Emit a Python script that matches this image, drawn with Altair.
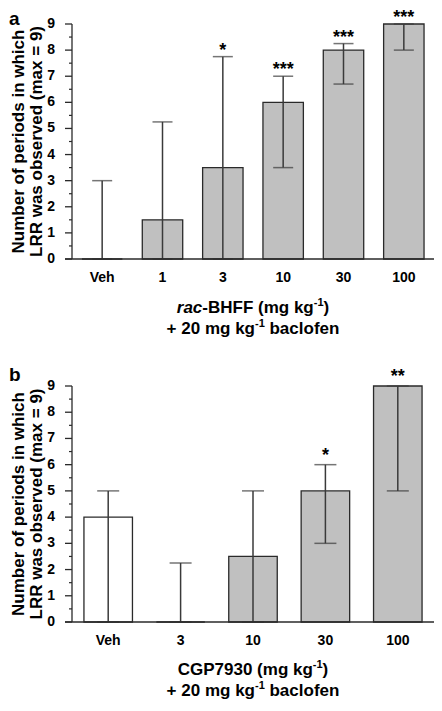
import altair as alt
import pandas as pd

FONT = "Liberation Sans"

# ---------------- data ----------------
a_doses = ["Veh", "1", "3", "10", "30", "100"]
a_median = [0, 1.5, 3.5, 6, 8, 9]
a_low = [0, 0, 0, 3.5, 6.7, 8]
a_high = [3, 5.25, 7.75, 7, 8.25, 9]
a_sig = ["", "", "*", "***", "***", "***"]
a_kind = ["vehicle", "drug", "drug", "drug", "drug", "drug"]

b_doses = ["Veh", "3", "10", "30", "100"]
b_median = [4, 0, 2.5, 5, 9]
b_low = [0, 0, 0, 3, 5]
b_high = [5, 2.25, 5, 6, 9]
b_sig = ["", "", "", "*", "**"]
b_kind = ["vehicle", "drug", "drug", "drug", "drug"]

y_major = [0, 1, 2, 3, 4, 5, 6, 7, 8, 9]
y_minor = [0.5, 1.5, 2.5, 3.5, 4.5, 5.5, 6.5, 7.5, 8.5]
y_limits = [0, 9]

y_title = ["Number of periods in which", "LRR was observed (max = 9)"]
a_xtitle = [[("rac", "i"), ("-BHFF (mg kg", "b"), ("-1", "s"), (")", "b")],
            [("+ 20 mg kg", "b"), ("-1", "s"), (" baclofen", "b")]]
b_xtitle = [[("CGP7930 (mg kg", "b"), ("-1", "s"), (")", "b")],
            [("+ 20 mg kg", "b"), ("-1", "s"), (" baclofen", "b")]]

# Liberation Sans Bold advance widths (per 1000 em), used to lay out the rich-text titles
ADV = {" ": 278, "(": 333, ")": 333, "+": 584, "-": 333, "B": 722, "C": 722,
       "F": 611, "G": 778, "H": 722, "P": 667, "a": 556, "b": 611, "c": 556,
       "e": 556, "f": 333, "g": 611, "k": 556, "l": 278, "m": 889, "n": 611,
       "o": 611, "r": 389}
for d in "0123456789":
    ADV[d] = 556

# ---------------- layout (pixels, relative to plot origin) ----------------
W = 362
HT = 676
A_TOP, A_H = 0, 235
B_TOP, B_H = 362, 236
TFS = 17
SFS = 11
INK = "#2a2a2a"
WHISK = "#3a3a3a"


def seg_layout(line, center):
    parts, total = [], 0.0
    for text, kind in line:
        fs = SFS if kind == "s" else TFS
        lead = len(text) - len(text.lstrip(" "))
        w = sum(ADV[c] for c in text) * fs / 1000
        parts.append((text.strip(), kind, total + lead * ADV[" "] * fs / 1000))
        total += w
    start = center - total / 2
    return [(t, k, start + x) for t, k, x in parts]


def panel(doses, med, low, high, sig, kind, label, label_dy, xtitle, top, height,
          star_dy, cap, tgap):
    bottom = top + height
    df = pd.DataFrame(dict(dose=doses, med=med, low=low, high=high, sig=sig, kind=kind))
    base = alt.Chart(df)
    xsc = alt.Scale(domain=doses, range=[0, W], paddingInner=0.33, paddingOuter=0.165)
    ysc = alt.Scale(domain=y_limits, range=[bottom, top], nice=False, zero=False)
    x = alt.X("dose:N", scale=xsc, axis=None)

    def Y(f):
        return alt.Y(f, scale=ysc, axis=None)

    layers = []
    layers.append(base.mark_bar(stroke=INK, strokeWidth=1.3).encode(
        x=x, y=Y("med:Q"),
        color=alt.Color("kind:N", scale=alt.Scale(domain=["vehicle", "drug"],
                                                  range=["white", "#c0c0c0"]), legend=None)))
    layers.append(base.mark_rule(color=WHISK, strokeWidth=1.5).encode(
        x=x, y=Y("low:Q"), y2="high:Q"))
    for f in ["high:Q", "low:Q"]:
        layers.append(base.mark_tick(size=cap, thickness=1.5, color=WHISK,
                                     orient="horizontal").encode(x=x, y=Y(f)))
    layers.append(base.mark_text(font=FONT, fontSize=18, fontWeight="bold",
                                 baseline="alphabetic", dy=star_dy, color="black").encode(
        x=x, y=Y("high:Q"), text="sig:N"))
    # category labels
    layers.append(base.mark_text(font=FONT, fontSize=14, fontWeight="bold",
                                 baseline="alphabetic", color="black").encode(
        x=x, y=alt.value(bottom + 23), text="dose:N"))
    # y axis line, x baseline, ticks, labels
    lim = pd.DataFrame({"lo": [y_limits[0]], "hi": [y_limits[1]]})
    layers.append(alt.Chart(lim).mark_rule(color=INK, strokeWidth=1.3).encode(
        x=alt.value(0), y=Y("lo:Q"), y2="hi:Q"))
    layers.append(alt.Chart(lim).mark_rule(color=INK, strokeWidth=1.3).encode(
        x=alt.value(-7), x2=alt.value(W), y=Y("lo:Q")))
    major = pd.DataFrame({"v": y_major})
    layers.append(alt.Chart(major).mark_rule(color=INK, strokeWidth=1.3).encode(
        y=Y("v:Q"), x=alt.value(-7), x2=alt.value(0)))
    layers.append(alt.Chart(pd.DataFrame({"v": y_minor})).mark_rule(color=INK, strokeWidth=1.2).encode(
        y=Y("v:Q"), x=alt.value(-3), x2=alt.value(0)))
    layers.append(alt.Chart(major).mark_text(font=FONT, fontSize=14, fontWeight="bold",
                                             align="right", baseline="middle", color="black").encode(
        y=Y("v:Q"), x=alt.value(-17), text="v:Q"))
    # panel letter
    layers.append(alt.Chart(pd.DataFrame({"t": [label]})).mark_text(
        font=FONT, fontSize=19, fontWeight="bold", align="left", baseline="alphabetic",
        color="black").encode(text="t:N", x=alt.value(-63), y=alt.value(top + label_dy)))
    # y title (two lines)
    for t, px in zip(y_title, [-48, -30.5]):
        layers.append(alt.Chart(pd.DataFrame({"t": [t]})).mark_text(
            font=FONT, fontSize=TFS, fontWeight="bold", angle=270, align="center",
            baseline="alphabetic", color="black").encode(
            text="t:N", x=alt.value(px), y=alt.value((top + bottom) / 2)))
    # x title (rich text)
    for li, line in enumerate(xtitle):
        yb = bottom + tgap[li]
        for t, k, px in seg_layout(line, W / 2):
            fs = SFS if k == "s" else TFS
            py = yb - 7 if k == "s" else yb
            layers.append(alt.Chart(pd.DataFrame({"t": [t]})).mark_text(
                font=FONT, fontSize=fs, fontWeight="bold",
                fontStyle="italic" if k == "i" else "normal",
                align="left", baseline="alphabetic", color="black").encode(
                text="t:N", x=alt.value(px), y=alt.value(py)))
    return layers


layers = (panel(a_doses, a_median, a_low, a_high, a_sig, a_kind, "a", 1, a_xtitle,
                A_TOP, A_H, -1, 20, [54, 75])
          + panel(b_doses, b_median, b_low, b_high, b_sig, b_kind, "b", -5, b_xtitle,
                  B_TOP, B_H, -4, 22, [53, 74]))

chart = alt.layer(*layers).resolve_scale(x="independent", y="independent").properties(
    width=W, height=HT,
    autosize=alt.AutoSizeParams(type="none"),
    padding={"left": 64, "top": 16, "right": 0, "bottom": 0},
).configure_view(strokeWidth=0)

chart.save("out.html", embed_options={"renderer": "svg", "actions": False})
